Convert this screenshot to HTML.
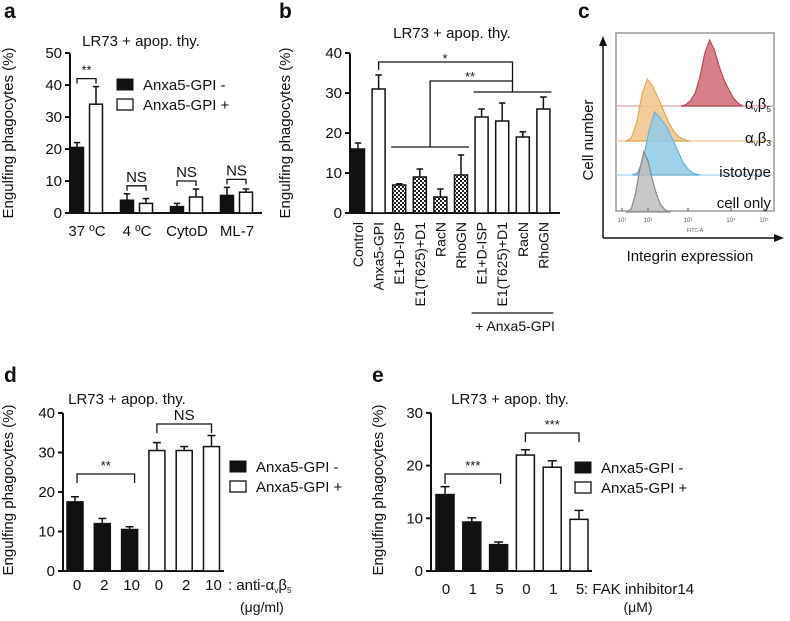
<!DOCTYPE html>
<html><head><meta charset="utf-8"><style>
html,body{margin:0;padding:0;background:#fff}
svg{display:block;font-family:"Liberation Sans",Arial,sans-serif}
</style></head><body>
<svg id="fig" width="790" height="621" viewBox="0 0 790 621" xmlns="http://www.w3.org/2000/svg">
<defs>
<pattern id="hatch" width="4" height="4" patternUnits="userSpaceOnUse">
<rect width="4" height="4" fill="#fff"/><rect width="2" height="2" fill="#222"/><rect x="2" y="2" width="2" height="2" fill="#222"/>
</pattern>
</defs>
</svg>
<script>
// ---- Panel a data ----
const aCategories = ["37 ºC","4 ºC","CytoD","ML-7"];
const aNeg = [20.5, 4, 2, 5.5];
const aNegErr = [1.5, 2, 1, 2.5];
const aPos = [34, 3, 5, 6.5];
const aPosErr = [5.5, 1.5, 2.5, 1];
const aTicks = [0,10,20,30,40,50];
// ---- Panel b data ----
const bCategories = ["Control","Anxa5-GPI","E1+D-ISP","E1(T625)+D1","RacN","RhoGN","E1+D-ISP","E1(T625)+D1","RacN","RhoGN"];
const bValues = [16, 31, 7, 9, 4, 9.5, 24, 23, 19, 26];
const bErrors = [1.5, 3.5, 0.3, 2, 2, 5, 2, 4.5, 1.3, 3];
const bFills = ["black","white","hatch","hatch","hatch","hatch","white","white","white","white"];
const bTicks = [0,10,20,30,40];
// ---- Panel c data (histogram heights, fraction of peak, sampled across x) ----
const cLabels = [["α","v","β","5"],["α","v","β","3"],["istotype"],["cell only"]];
const cB5 = [0,0.02,0.08,0.2,0.45,0.8,1,0.85,0.6,0.4,0.25,0.12,0.04,0];
const cB3 = [0,0.05,0.3,0.75,1,0.88,0.7,0.5,0.3,0.15,0.06,0.02,0];
const cIso = [0,0.04,0.25,0.7,1,0.9,0.78,0.6,0.4,0.2,0.08,0.02,0];
const cCell = [0,0.05,0.3,0.7,1,0.85,0.55,0.3,0.12,0.04,0];
const cTickLabels = ["10¹","10²","10³","10⁴","10⁵"];
// ---- Panel d data ----
const dCategories = ["0","2","10","0","2","10"];
const dValues = [17.5, 12, 10.5, 30.5, 30.5, 31.5];
const dErrors = [1.3, 1.3, 0.7, 2, 1, 2.8];
const dTicks = [0,10,20,30,40];
// ---- Panel e data ----
const eCategories = ["0","1","5","0","1","5"];
const eValues = [14.5, 9.3, 5, 22, 19.7, 9.8];
const eErrors = [1.5, 0.8, 0.5, 1, 1.2, 1.7];
const eTicks = [0,10,20,30];

const NS="http://www.w3.org/2000/svg";
const svg=document.getElementById('fig');
function mk(tag,attrs,parent,text){
  const e=document.createElementNS(NS,tag);
  for(const k in attrs)e.setAttribute(k,attrs[k]);
  if(text!==undefined)e.textContent=text;
  (parent||svg).appendChild(e);return e;
}
function txt(x,y,s,size,anchor,parent,extra){
  return mk('text',Object.assign({x:x,y:y,'font-size':size||14,'text-anchor':anchor||'start',fill:'#111'},extra||{}),parent,s);
}
function subLabel(x,y,parts,size,anchor,parent){
  const t=mk('text',{x:x,y:y,'font-size':size,'text-anchor':anchor,fill:'#111'},parent);
  parts.forEach((p,i)=>{
    const sub=i%2===1;
    mk('tspan',sub?{'font-size':size*0.55,dy:3}:{'font-size':size,dy:i>0?-3:0},t,p);
  });
  return t;
}
function fillOf(f){return f==='black'?'#111':(f==='hatch'?'url(#hatch)':'#fff');}
function yAxis(g,x0,yFn,ticks,xEnd){
  const y0=yFn(ticks[0]),y1=yFn(ticks[ticks.length-1]);
  mk('line',{x1:x0,y1:y0,x2:x0,y2:y1,stroke:'#111','stroke-width':2},g);
  mk('line',{x1:x0,y1:y0,x2:xEnd,y2:y0,stroke:'#111','stroke-width':2},g);
  ticks.forEach(t=>{
    mk('line',{x1:x0-5,y1:yFn(t),x2:x0,y2:yFn(t),stroke:'#111','stroke-width':2},g);
    const l=txt(x0-8,yFn(t)+5,String(t),15,'end',g);
    
    
  });
}
function bar(g,cx,w,v,err,fill,yFn,name){
  const y=yFn(v),y0=yFn(0);
  const top=yFn(v+err);
  mk('line',{x1:cx,y1:y,x2:cx,y2:top,stroke:'#111','stroke-width':1.5},g);
  mk('line',{x1:cx-w/4,y1:top,x2:cx+w/4,y2:top,stroke:'#111','stroke-width':1.5},g);
  const r=mk('rect',{x:cx-w/2,y:y,width:w,height:y0-y,fill:fillOf(fill),stroke:'#111','stroke-width':1.5},g);
  
  
}
function bracket(g,x1,x2,y,drop,label,size){
  mk('path',{d:`M${x1},${y+drop}V${y}H${x2}V${y+drop}`,fill:'none',stroke:'#111','stroke-width':1.3},g);
  txt((x1+x2)/2,y-4,label,size||14,'middle',g);
}
function yTitle(g,x,y,s){
  const t=txt(x,y,s,15,'middle',g,{transform:`rotate(-90 ${x} ${y})`});
  
  
}
function legend(g,x,y){
  const l1=mk('rect',{x:x,y:y,width:16,height:11,fill:'#111',stroke:'#111'},g);
  
  
  txt(x+26,y+11,'Anxa5-GPI -',15,'start',g);
  const l2=mk('rect',{x:x,y:y+20,width:16,height:11,fill:'#fff',stroke:'#111','stroke-width':1.3},g);
  
  
  txt(x+26,y+31,'Anxa5-GPI +',15,'start',g);
}
function panelLetter(x,y,s){
  const t=txt(x,y,s,21,'start',svg,{'font-weight':'bold'});
  
  
}

// ===== Panel a =====
(function(){
  const g=mk('g',{});
  
  
  const y=v=>213-v*3.2;
  const gx=i=>87+i*50;
  yAxis(g,70,y,aTicks,262);
  aCategories.forEach((c,i)=>{
    bar(g,gx(i)-10,13,aNeg[i],aNegErr[i],'black',y,'bar-neg-'+i);
    bar(g,gx(i)+9,13,aPos[i],aPosErr[i],'white',y,'bar-pos-'+i);
    txt(gx(i),236,c,15,'middle',g);
    const top=Math.max(aNeg[i]+aNegErr[i],aPos[i]+aPosErr[i]);
    bracket(g,gx(i)-10,gx(i)+9,y(top)-8,5,i===0?'**':'NS',i===0?13:15);
  });
  legend(g,117,79);
  txt(141,46,'LR73 + apop. thy.',15,'middle',g);
  yTitle(g,13,133,'Engulfing phagocytes (%)');
})();
panelLetter(4,18,'a');

// ===== Panel b =====
(function(){
  const g=mk('g',{});
  
  
  const y=v=>213-v*4;
  const bx=i=>358+i*20.6;
  yAxis(g,350,y,bTicks,560);
  bCategories.forEach((c,i)=>{
    bar(g,bx(i),13,bValues[i],bErrors[i],bFills[i],y,'bar-'+i);
    const t=txt(bx(i)+5,222,c,14,'end',g,{transform:`rotate(-90 ${bx(i)+5} 222)`});
    
    
  });
  const hatchMid=(bx(2)+bx(5))/2;
  mk('line',{x1:bx(2)-8,y1:147,x2:bx(5)+8,y2:147,stroke:'#111','stroke-width':1.3},g);
  mk('line',{x1:bx(6)-8,y1:92,x2:bx(9)+8,y2:92,stroke:'#111','stroke-width':1.3},g);
  const wMid=(bx(6)+bx(9))/2;
  mk('path',{d:`M${hatchMid},147V81H${wMid}V92`,fill:'none',stroke:'#111','stroke-width':1.3},g);
  mk('path',{d:`M${bx(1)},70V62H${wMid}V81`,fill:'none',stroke:'#111','stroke-width':1.3},g);
  txt(470,81,'**',13,'middle',g);
  txt(445,63,'*',13,'middle',g);
  mk('line',{x1:bx(6)-10,y1:313,x2:bx(9)+10,y2:313,stroke:'#111','stroke-width':1.3},g);
  txt(515,331,'+ Anxa5-GPI',14,'middle',g);
  txt(452,38,'LR73 + apop. thy.',15,'middle',g);
  yTitle(g,290,133,'Engulfing phagocytes (%)');
})();
panelLetter(279,18,'b');

// ===== Panel c =====
(function(){
  const g=mk('g',{});
  
  
  const fr=mk('rect',{x:616,y:33,width:158,height:178,fill:'#fff',stroke:'#888','stroke-width':1.3},g);
  
  
  const xs=(start,end,n,i)=>start+(end-start)*i/(n-1);
  function hist(arr,x0,x1,base,peakH,fill,stroke,name){
    let d=`M${x0},${base}`;
    arr.forEach((v,i)=>{d+=`L${xs(x0,x1,arr.length,i).toFixed(1)},${(base-v*peakH).toFixed(1)}`;});
    d+=`L${x1},${base}Z`;
    const p=mk('path',{d:d,fill:fill,stroke:stroke,'stroke-width':1.2,'fill-opacity':0.85},g);
    
    
  }
  mk('line',{x1:616,y1:106,x2:774,y2:106,stroke:'#e6a0a8','stroke-width':1.2},g);
  mk('line',{x1:616,y1:141,x2:774,y2:141,stroke:'#f0c890','stroke-width':1.2},g);
  mk('line',{x1:616,y1:175,x2:774,y2:175,stroke:'#9fd3ec','stroke-width':1.2},g);
  hist(cB5,681,743,106,66,'#cf6b76','#b84a55','hist-avb5');
  hist(cB3,626,690,141,62,'#f2c387','#e0a860','hist-avb3');
  hist(cIso,632,700,175,63,'#8ecbe8','#6ab3d8','hist-isotype');
  hist(cCell,627,669,212,60,'#bdbdbd','#888','hist-cell-only');
  const tx=[622,648,688,731,764];
  cTickLabels.forEach((s,i)=>{
    mk('line',{x1:tx[i],y1:211,x2:tx[i],y2:208,stroke:'#555'},g);
    txt(tx[i],222,s,6,'middle',g,{fill:'#555'});
  });
  txt(695,232,'FITC-A',5,'middle',g,{fill:'#555'});
  const ly=[109,143,177,208];
  cLabels.forEach((parts,i)=>{
    const t=subLabel(771,ly[i],parts,15,'end',g);
    
    
  });
  mk('path',{d:'M603,238V44',stroke:'#111','stroke-width':1.5,fill:'none'},g);
  mk('path',{d:'M599,46L603,36L607,46Z',fill:'#111'},g);
  mk('path',{d:'M603,238H776',stroke:'#111','stroke-width':1.5,fill:'none'},g);
  mk('path',{d:'M774,234L784,238L774,242Z',fill:'#111'},g);
  txt(690,261,'Integrin expression',15,'middle',g);
  txt(593,140,'Cell number',15,'middle',g,{transform:'rotate(-90 593 140)'});
})();
panelLetter(578,18,'c');

// ===== Panel d =====
(function(){
  const g=mk('g',{});
  
  
  const y=v=>571-v*3.95;
  const bx=i=>75+i*27.3;
  yAxis(g,63,y,dTicks,224);
  dCategories.forEach((c,i)=>{
    bar(g,bx(i),16,dValues[i],dErrors[i],i<3?'black':'white',y,'bar-'+i);
    txt(bx(i)+2,590,c,15,'middle',g);
  });
  bracket(g,bx(0)+2,bx(2)+5,474,9,'**',13);
  bracket(g,bx(3),bx(5),424,9,'NS',15);
  subLabel(228,590,[': anti-α','v','β','5'],15,'start',g);
  txt(240,612,'(μg/ml)',14,'start',g);
  legend(g,230,461);
  txt(127,404,'LR73 + apop. thy.',15,'middle',g);
  yTitle(g,13,490,'Engulfing phagocytes (%)');
})();
panelLetter(4,382,'d');

// ===== Panel e =====
(function(){
  const g=mk('g',{});
  
  
  const y=v=>571-v*5.27;
  const bx=i=>445+i*26.8;
  yAxis(g,431,y,eTicks,592);
  eCategories.forEach((c,i)=>{
    bar(g,bx(i),18,eValues[i],eErrors[i],i<3?'black':'white',y,'bar-'+i);
    txt(bx(i)+1,594,c,15,'middle',g);
  });
  txt(584,594,': FAK inhibitor14',15,'start',g);
  txt(638,612,'(μM)',14,'middle',g);
  bracket(g,bx(0),bx(2)+2,474,10,'***',13);
  bracket(g,bx(3),bx(5),433,9,'***',13);
  legend(g,575,462);
  txt(510,404,'LR73 + apop. thy.',15,'middle',g);
  yTitle(g,383,490,'Engulfing phagocytes (%)');
})();
panelLetter(372,382,'e');
</script>
</body></html>
